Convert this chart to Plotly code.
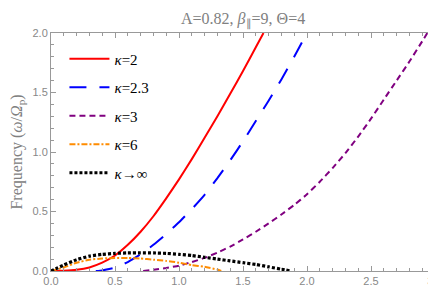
import plotly.graph_objects as go

x_k2 = [0, 0.1, 0.2, 0.3, 0.4, 0.5, 0.6, 0.7, 0.8, 0.9, 1.0, 1.1, 1.2, 1.3, 1.4, 1.5, 1.6, 1.66]
y_k2 = [0, 0.002, 0.01, 0.03, 0.07, 0.13, 0.22, 0.33, 0.46, 0.61, 0.77, 0.94, 1.12, 1.30, 1.49, 1.68, 1.88, 2.0]

x_k23 = [0.35, 0.4, 0.5, 0.6, 0.7, 0.8, 0.9, 1.0, 1.1, 1.2, 1.3, 1.4, 1.5, 1.6, 1.7, 1.8, 1.9, 2.0]
y_k23 = [0, 0.005, 0.028, 0.075, 0.14, 0.22, 0.31, 0.41, 0.52, 0.64, 0.78, 0.93, 1.09, 1.26, 1.43, 1.61, 1.80, 2.0]

x_k3 = [0.72, 0.8, 0.9, 1.0, 1.1, 1.2, 1.3, 1.4, 1.5, 1.6, 1.7, 1.8, 1.9, 2.0, 2.1, 2.2, 2.3, 2.4, 2.5, 2.6, 2.7, 2.8, 2.9, 2.94]
y_k3 = [0, 0.01, 0.025, 0.045, 0.075, 0.11, 0.155, 0.205, 0.265, 0.33, 0.40, 0.475, 0.555, 0.645, 0.75, 0.865, 0.99, 1.13, 1.28, 1.44, 1.60, 1.76, 1.93, 2.0]

x_k6 = [0, 0.1, 0.2, 0.3, 0.4, 0.5, 0.6, 0.7, 0.8, 0.9, 1.0, 1.1, 1.2, 1.3, 1.33]
y_k6 = [0, 0.03, 0.07, 0.095, 0.105, 0.11, 0.11, 0.105, 0.095, 0.085, 0.07, 0.05, 0.035, 0.012, 0]

x_inf = [0, 0.05, 0.1, 0.2, 0.3, 0.4, 0.5, 0.6, 0.7, 0.8, 0.9, 1.0, 1.1, 1.2, 1.3, 1.4, 1.5, 1.6, 1.7, 1.8, 1.87]
y_inf = [0, 0.025, 0.05, 0.095, 0.125, 0.14, 0.148, 0.152, 0.153, 0.152, 0.148, 0.14, 0.13, 0.115, 0.10, 0.085, 0.07, 0.055, 0.035, 0.015, 0]

names = ["<i>κ</i>=2", "<i>κ</i>=2.3", "<i>κ</i>=3", "<i>κ</i>=6", "<i>κ</i>→∞"]
title_text = "A=0.82, <i>β</i><sub>∥</sub>=9, Θ=4"

fig = go.Figure()
series = [
    (x_k2, y_k2, "#ff0000", "solid", 2),
    (x_k23, y_k23, "#0000ff", "17px,13px", 2),
    (x_k3, y_k3, "#800080", "6px,4px", 2),
    (x_k6, y_k6, "#ff8c00", "6px,2px,2px,2px", 2),
    (x_inf, y_inf, "#000000", "3px,2px", 3.2),
]
for i, (xs, ys, c, d, w) in enumerate(series):
    fig.add_trace(go.Scatter(x=xs, y=ys, mode="lines", name=names[i],
                             legendgroup=str(i),
                             line=dict(color=c, dash=d, width=w, shape="spline", smoothing=0.4)))

grey = "#999999"
axis_common = dict(showline=True, linecolor=grey, linewidth=1, mirror="allticks",
                   ticks="inside", ticklen=5, tickcolor=grey, showgrid=False, zeroline=False,
                   automargin=False,
                   tickfont=dict(family="Liberation Sans", size=11, color="#888888"))
fig.update_xaxes(range=[0, 3], dtick=0.5, tickformat=".1f",
                 minor=dict(dtick=0.1, ticks="inside", ticklen=3, tickcolor=grey, showgrid=False),
                 **axis_common)
fig.update_yaxes(range=[0, 2], dtick=0.5, tickformat=".1f",
                 minor=dict(dtick=0.1, ticks="inside", ticklen=3, tickcolor=grey, showgrid=False),
                 title=dict(text="Frequency (<i>ω</i>/<i>Ω</i><sub>p</sub>)",
                            font=dict(family="Liberation Serif", size=16, color="#808080"),
                            standoff=6),
                 **axis_common)

fig.add_annotation(text=title_text, xref="paper", yref="paper", x=0.5, y=1.0,
                   xanchor="center", yanchor="bottom", yshift=1,
                   showarrow=False,
                   font=dict(family="Liberation Serif", size=16, color="#808080"))

fig.update_layout(
    width=436, height=305,
    margin=dict(l=43, r=9, t=25, b=42),
    plot_bgcolor="white", paper_bgcolor="white",
    legend=dict(x=0.035, y=0.96, xanchor="left", yanchor="top", bgcolor="rgba(0,0,0,0)",
                font=dict(family="Liberation Serif", size=15, color="#000000"),
                tracegroupgap=6, itemwidth=40),
    showlegend=True,
)

fig.write_html("out.html")
